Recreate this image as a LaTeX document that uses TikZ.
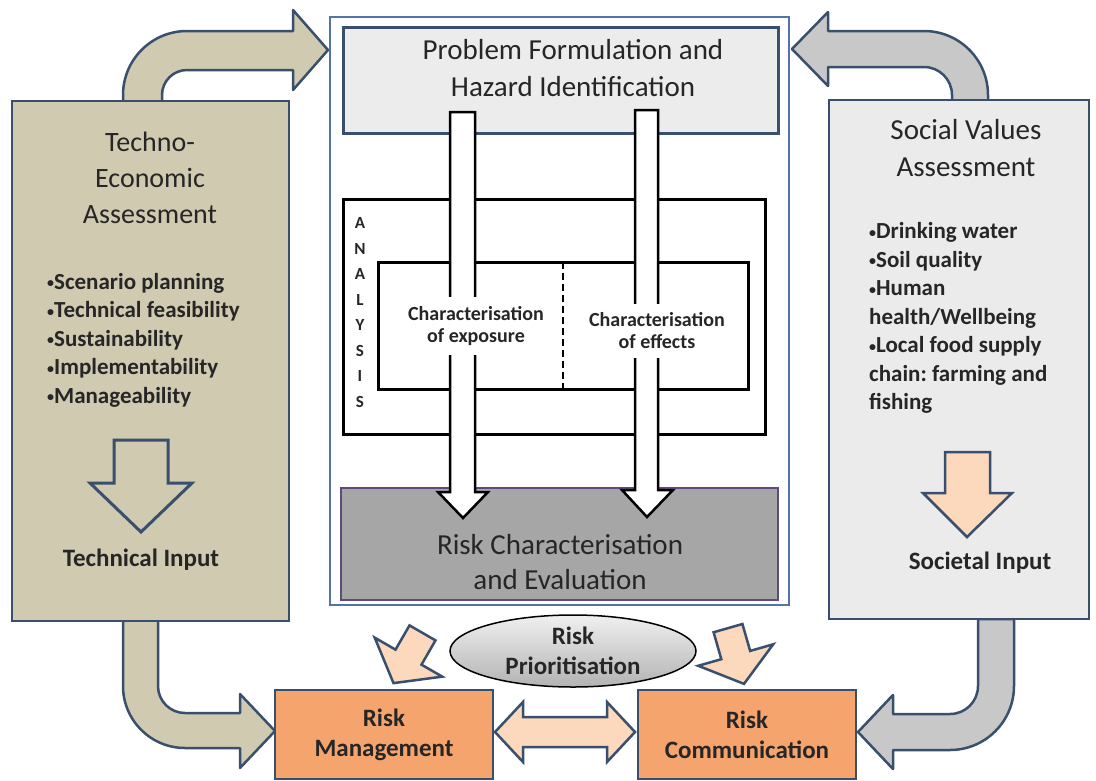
\documentclass[tikz,border=0pt]{standalone}
\usepackage{fontspec}
\setmainfont{Carlito}
\usetikzlibrary{shapes.geometric}
\definecolor{teFill}{RGB}{207,202,176}
\definecolor{svFill}{RGB}{235,235,235}
\definecolor{probFill}{RGB}{236,236,236}
\definecolor{edgeBlue}{RGB}{56,80,110}
\definecolor{frameBlue}{RGB}{84,115,170}
\definecolor{rcGray}{RGB}{166,166,166}
\definecolor{rcPurple}{RGB}{96,74,123}
\definecolor{bendGray}{RGB}{200,200,200}
\definecolor{peach}{RGB}{252,216,188}
\definecolor{riskOrange}{RGB}{246,164,110}
\definecolor{textGray}{RGB}{38,38,38}
\newcommand\dotmark{\raisebox{1.5pt}{\fontsize{14}{14}\selectfont •}}
\frenchspacing
\begin{document}
\begin{tikzpicture}[x=1pt, y=1pt,
	panel/.style={draw=edgeBlue, line width=2.5pt, rectangle, outer sep=0pt, inner sep=0pt},
	headtext/.style={font=\fontsize{29}{37}\selectfont, text=textGray, align=center},
	bulletlist/.style={font=\bfseries\fontsize{23}{28.5}\selectfont, text=textGray, align=left, anchor=west, inner sep=0pt},
	inputtext/.style={font=\bfseries\fontsize{25}{30}\selectfont, text=textGray, align=center},
	bendarrow/.style={draw=edgeBlue, line width=2.5pt, line join=round},
	whitearrow/.style={draw=black, fill=white, line width=2.5pt},
	blockarrow/.style={draw=edgeBlue, fill=peach, line width=2.5pt},
	analysisbox/.style={draw=black, line width=3pt, rectangle, outer sep=0pt, inner sep=0pt, fill=white}]
	\useasboundingbox (0,0) rectangle (1096,-780);

	% bent arrows out of the two side panels
	\draw [bendarrow, fill=teFill] (123,-102) -- (123,-95) arc [start angle=180, end angle=90, radius=64]
		-- (293,-31) -- (293,-10) -- (328,-50) -- (293,-90) -- (293,-70) -- (187,-70)
		arc [start angle=90, end angle=180, radius=25] -- (162,-102) -- cycle;
	\draw [bendarrow, fill=bendGray] (988,-102) -- (988,-95) arc [start angle=0, end angle=90, radius=64]
		-- (828,-31) -- (828,-12) -- (792,-49) -- (828,-86) -- (828,-67) -- (924,-67)
		arc [start angle=90, end angle=0, radius=28] -- (952,-102) -- cycle;
	\draw [bendarrow, fill=teFill] (123,-619) -- (123,-686) arc [start angle=180, end angle=270, radius=62]
		-- (240,-748) -- (240,-768) -- (275,-731) -- (240,-694) -- (240,-713) -- (185,-713)
		arc [start angle=270, end angle=180, radius=27] -- (158,-619) -- cycle;
	\draw [bendarrow, fill=bendGray] (1014,-619) -- (1014,-686) arc [start angle=0, end angle=-90, radius=64]
		-- (893,-750) -- (893,-769) -- (858,-732) -- (893,-695) -- (893,-714) -- (950,-714)
		arc [start angle=-90, end angle=0, radius=28] -- (978,-619) -- cycle;

	% side panels
	\node [panel, fill=teFill, minimum width=277, minimum height=520] (tepanel) at (150.5,-361) {};
	\node [panel, fill=svFill, minimum width=260, minimum height=519] (svpanel) at (959,-359.5) {};
	\node [headtext, font=\fontsize{28}{36}\selectfont] (tetitle) at (150,-178) {Techno-\\Economic\\Assessment};
	\node [headtext] (svtitle) at (966,-148) {Social Values\\Assessment};
	\node [bulletlist] (telist) at (47,-340) {\dotmark Scenario planning\\\dotmark Technical feasibility\\\dotmark Sustainability\\\dotmark Implementability\\\dotmark Manageability};
	\node [bulletlist] (svlist) at (869,-318) {\dotmark Drinking water\\\dotmark Soil quality\\\dotmark Human\\health/Wellbeing\\\dotmark Local food supply\\chain: farming and\\fishing};
	\draw [draw=edgeBlue, line width=3pt] (114,-440) -- (168,-440) -- (168,-483) -- (192,-483) -- (141,-532) -- (90,-483) -- (114,-483) -- cycle;
	\draw [blockarrow] (945,-452) -- (990,-452) -- (990,-493) -- (1012,-493) -- (967,-537) -- (923,-493) -- (945,-493) -- cycle;
	\node [inputtext] (techinput) at (141,-560) {Technical Input};
	\node [inputtext] (socinput) at (980,-563) {Societal Input};

	% central assessment frame
	\node [draw=frameBlue, line width=2pt, fill=white, rectangle, outer sep=0pt, inner sep=0pt,
		minimum width=459, minimum height=588] (frame) at (559.5,-311) {};
	\node [panel, fill=probFill, line width=3pt, minimum width=435, minimum height=106] (problem) at (560.5,-80) {};
	\node [analysisbox, minimum width=422, minimum height=235] (analysis) at (554,-316.5) {};
	\node [analysisbox, minimum width=370, minimum height=127] (charbox) at (563,-325.5) {};
	\draw [line width=2.5pt, dash pattern=on 7pt off 4pt] (charbox.north) -- (charbox.south);
	\node [rectangle, draw=rcPurple, fill=rcGray, line width=2.5pt, outer sep=0pt,
		minimum width=437, minimum height=112] (riskchar) at (559.5,-544) {};
	\draw [whitearrow] (450,-112) -- (475,-112) -- (475,-492) -- (488,-492) -- (463,-518) -- (438,-492) -- (450,-492) -- cycle;
	\draw [whitearrow] (635,-110) -- (658,-110) -- (658,-490) -- (673,-490) -- (647,-517) -- (622,-490) -- (635,-490) -- cycle;
	\node [headtext] (problemtext) at (573,-68) {Problem Formulation and\\Hazard Identification};
	\node [headtext, font=\fontsize{29}{35}\selectfont] (riskchartext) at (560,-562) {Risk Characterisation\\and Evaluation};
	\foreach \lettr [count=\i from 0] in {A,N,A,L,Y,S,I,S}
		\node [font=\bfseries\fontsize{17}{20}\selectfont, text=textGray, inner sep=0pt] (ana\i) at (360,{-223-25.5*\i}) {\lettr};
	\node [font=\bfseries\fontsize{20}{22}\selectfont, text=textGray, align=center, fill=white, inner xsep=2pt, inner ysep=9pt] (exposure) at (476,-326) {Characterisation\\of exposure};
	\node [font=\bfseries\fontsize{20}{22}\selectfont, text=textGray, align=center, fill=white, inner xsep=2pt, inner ysep=9pt] (effects) at (657,-331) {Characterisation\\of effects};

	% management and communication
	\begin{scope}[shift={(408,-658)}, rotate=240]
		\draw [blockarrow] (-29,-15) -- (-1,-15) -- (-1,-39) -- (29,0) -- (-1,39) -- (-1,15) -- (-29,15) -- cycle;
	\end{scope}
	\begin{scope}[shift={(736,-656)}, rotate=286]
		\draw [blockarrow] (-29,-15) -- (-1,-15) -- (-1,-39) -- (29,0) -- (-1,39) -- (-1,15) -- (-29,15) -- cycle;
	\end{scope}
	\node [ellipse, draw=black, line width=1.5pt, top color=gray!12, bottom color=gray!60, inner sep=0pt,
		minimum width=246, minimum height=72, inputtext] (prio) at (573,-651) {Risk\\Prioritisation};
	\node [panel, fill=riskOrange, minimum width=218, minimum height=89, inputtext] (riskman) at (384,-734.5) {Risk\\Management};
	\node [panel, fill=riskOrange, minimum width=218, minimum height=89, inputtext] (riskcom) at (747,-734.5) {Risk\\Communication};
	\draw [blockarrow] (495,-732) -- (523,-702) -- (523,-717) -- (607,-717) -- (607,-702) -- (635,-732)
		-- (607,-762) -- (607,-747) -- (523,-747) -- (523,-762) -- cycle;
\end{tikzpicture}
\end{document}
